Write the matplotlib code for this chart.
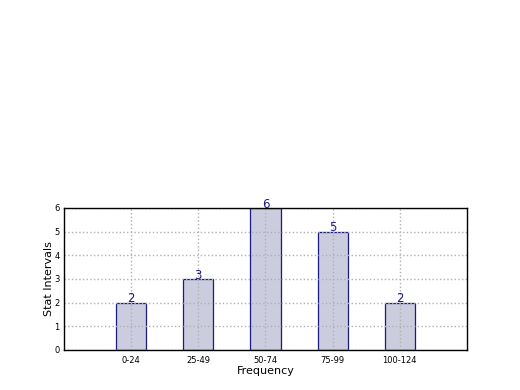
import numpy as np
import matplotlib
matplotlib.use("Agg")
import matplotlib.pyplot as plt

# Data
intervals = ["0-24", "25-49", "50-74", "75-99", "100-124"]
counts = [2, 3, 6, 5, 2]

fig = plt.figure(figsize=(5.2, 3.9), dpi=100)
ax = fig.add_axes([0.123, 0.1026, 0.775, 0.3644])

x = np.arange(len(intervals))
bars = ax.bar(x, counts, width=0.45, color="#ccccdf", edgecolor="#1a1a80",
              linewidth=0.9, zorder=1)

# Value labels sitting on top of each bar
for xi, c in zip(x, counts):
    ax.text(xi, c - 0.12, str(c), ha="center", va="bottom", color="#1a1a80",
            fontsize=8.5, zorder=3)

ax.set_xlim(-1, 5)
ax.set_ylim(0, 6)
ax.set_xticks(x)
ax.set_xticklabels(intervals, fontsize=6)
ax.set_yticks(range(0, 7))
ax.tick_params(axis="y", labelsize=6, length=0, pad=3)
ax.tick_params(axis="x", length=0, pad=4)

ax.grid(True, color="#b0b0b0", linestyle=":", linewidth=1.0, zorder=2)
ax.set_axisbelow(False)

for spine in ax.spines.values():
    spine.set_linewidth(1.0)
    spine.set_color("black")
    spine.set_zorder(4)

ax.set_xlabel("Frequency", fontsize=8, labelpad=1)
ax.set_ylabel("Stat Intervals", fontsize=8, labelpad=0)

fig.savefig("out.png", dpi=100, facecolor="white")
